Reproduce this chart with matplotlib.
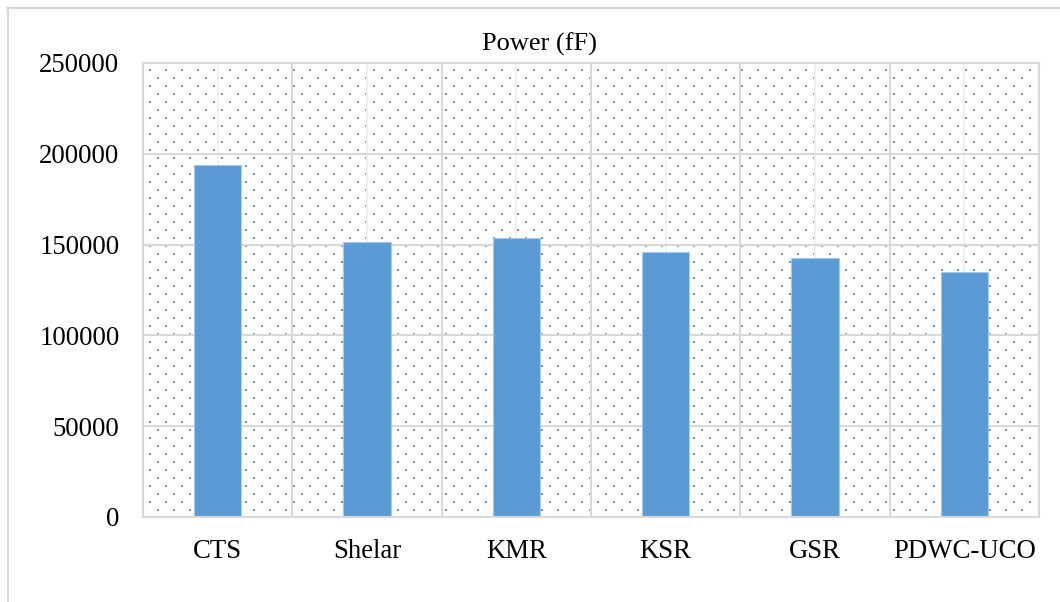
import numpy as np
import matplotlib.pyplot as plt
from matplotlib.lines import Line2D

# -----------------------------
# Data
# -----------------------------
methods = ["CTS", "Shelar", "KMR", "KSR", "GSR", "PDWC-UCO"]
power_fF = [193700, 151400, 153600, 145800, 142500, 135100]
y_ticks = [0, 50000, 100000, 150000, 200000, 250000]

bar_color = "#5B9BD5"
grid_dark = "#d9d9d9"
grid_light = "#f0f0f0"

plt.rcParams["font.family"] = ["Liberation Serif", "DejaVu Serif"]

W, H = 1060, 602
fig = plt.figure(figsize=(W / 100, H / 100), dpi=100)

# plot area in pixels
px_left, px_right, px_top, px_bottom = 143, 1039, 63, 517
ax_w = px_right - px_left
ax_h = px_bottom - px_top
ax = fig.add_axes([px_left / W, (H - px_bottom) / H, ax_w / W, ax_h / H])

# outer chart border (only left and top edges fall inside the picture)
fig.add_artist(Line2D([7.5 / W, 7.5 / W], [0, (H - 8) / H], color=grid_dark, lw=1.5))
fig.add_artist(Line2D([7 / W, 1], [(H - 8) / H, (H - 8) / H], color=grid_dark, lw=1.5))

# dotted fill pattern of the plot area
dots_x, dots_y = [], []
for j, yy in enumerate(np.arange(7, ax_h - 4, 8)):
    start = 7 if j % 2 == 0 else 15
    for xx in np.arange(start, ax_w - 4, 16):
        dots_x.append(xx / ax_w)
        dots_y.append(1 - yy / ax_h)
ax.scatter(dots_x, dots_y, s=2.2, marker="s", color=bar_color, linewidths=0,
           transform=ax.transAxes, zorder=0.2, clip_on=False)

x = np.arange(len(methods))
ax.bar(x, power_fF, width=0.315, color=bar_color, edgecolor="#a8c8ea",
       linewidth=0.8, zorder=2)

ax.set_xlim(-0.5, len(methods) - 0.5)
ax.set_ylim(0, 250000)
ax.set_yticks(y_ticks)
ax.set_yticklabels([str(v) for v in y_ticks])
ax.set_xticks(x)
ax.set_xticklabels(methods)
ax.set_xticks(np.arange(-0.5, len(methods)), minor=True)

ax.set_axisbelow(True)
ax.grid(axis="y", which="major", color=grid_dark, lw=1.5)
ax.grid(axis="x", which="major", color=grid_light, lw=1.5)
ax.grid(axis="x", which="minor", color=grid_dark, lw=1.5)

ax.tick_params(axis="both", which="both", length=0, labelsize=19.3, colors="black")
ax.tick_params(axis="y", pad=17)
ax.tick_params(axis="x", pad=15.5)

for s in ax.spines.values():
    s.set_color(grid_dark)
    s.set_linewidth(1.5)

fig.text(539 / W, (H - 44) / H, "Power (fF)", ha="center", va="center", fontsize=19)

fig.savefig("out.png", dpi=100)
